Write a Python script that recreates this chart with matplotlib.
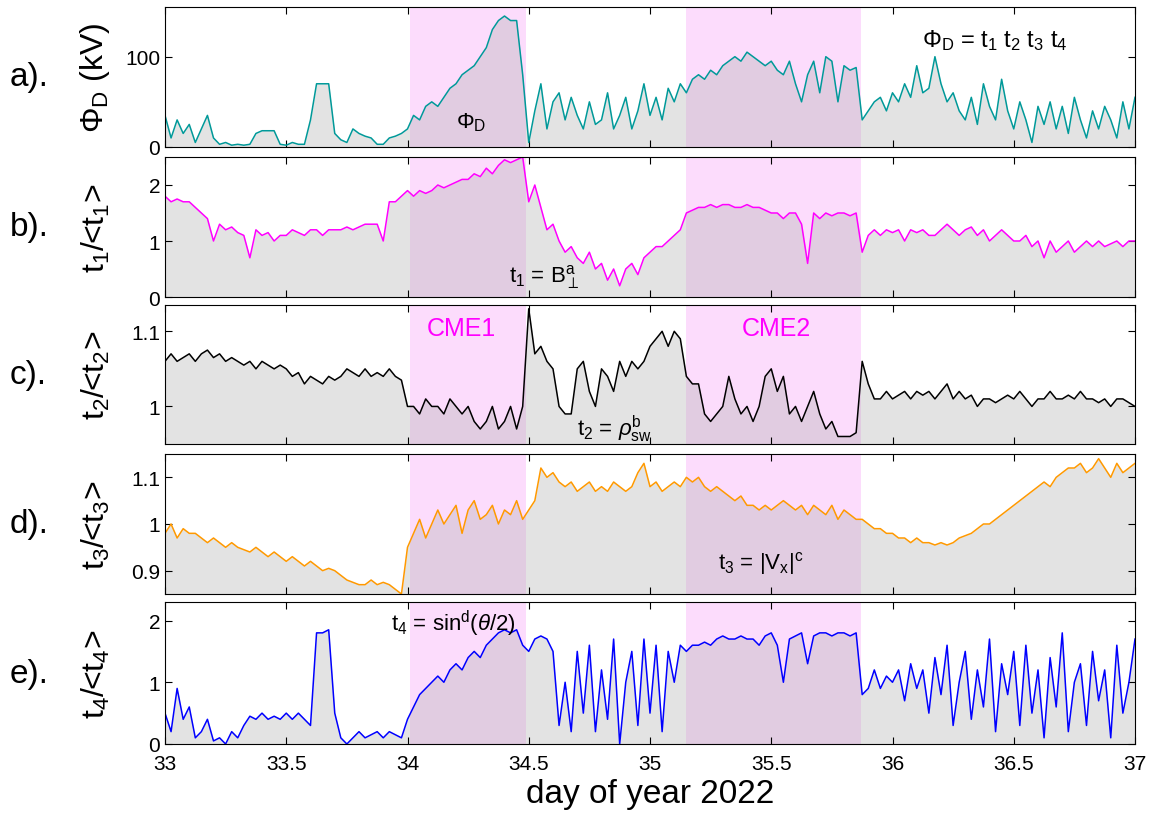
import matplotlib
matplotlib.use("Agg")
import matplotlib.pyplot as plt
import numpy as np

plt.rcParams["font.family"] = ["Liberation Sans", "DejaVu Sans"]
plt.rcParams["mathtext.fontset"] = "custom"
plt.rcParams["mathtext.rm"] = "Liberation Sans"
plt.rcParams["mathtext.it"] = "Liberation Sans:italic"

DAY_START, DAY_END = 33, 37
CME1 = (34.01, 34.49)
CME2 = (35.15, 35.87)

phi_d = [35, 10, 30, 15, 25, 5, 20, 35, 10, 3, 5, 2, 3, 2, 3, 15, 18, 18, 18, 3,
         2, 5, 3, 3, 30, 70, 70, 70, 15, 8, 5, 20, 15, 12, 10, 3, 3, 10, 12, 15,
         20, 35, 30, 45, 50, 45, 55, 65, 70, 80, 85, 90, 100, 110, 130, 140, 145, 140, 140, 80,
         5, 40, 70, 20, 50, 60, 30, 55, 35, 20, 50, 25, 30, 60, 20, 35, 55, 20, 40, 70,
         35, 55, 30, 65, 50, 70, 60, 75, 80, 75, 85, 80, 90, 95, 100, 95, 105, 100, 95, 90,
         95, 85, 80, 95, 70, 50, 80, 95, 60, 100, 95, 50, 90, 85, 88, 30, 40, 50, 55, 40,
         60, 50, 70, 55, 90, 60, 65, 100, 70, 50, 60, 40, 30, 55, 25, 70, 45, 30, 75, 40,
         20, 50, 30, 5, 45, 25, 50, 20, 45, 15, 55, 30, 10, 40, 20, 45, 30, 10, 50, 20, 55]

t1 = [1.8, 1.7, 1.75, 1.7, 1.7, 1.6, 1.5, 1.4, 1.0, 1.3, 1.2, 1.25, 1.15, 1.1, 0.7, 1.2, 1.1, 1.15, 1.0, 1.1,
      1.1, 1.2, 1.15, 1.1, 1.2, 1.2, 1.1, 1.2, 1.2, 1.2, 1.25, 1.2, 1.25, 1.3, 1.3, 1.3, 1.0, 1.7, 1.7, 1.8,
      1.9, 1.8, 1.9, 1.85, 1.9, 2.0, 1.95, 2.0, 2.05, 2.1, 2.1, 2.2, 2.15, 2.3, 2.2, 2.35, 2.45, 2.4, 2.45, 2.5,
      1.7, 2.0, 1.6, 1.2, 1.3, 1.0, 0.8, 0.9, 0.7, 0.6, 0.8, 0.5, 0.6, 0.3, 0.5, 0.2, 0.5, 0.6, 0.4, 0.7,
      0.8, 0.9, 0.9, 1.0, 1.1, 1.2,
      1.5, 1.55, 1.6, 1.6, 1.65, 1.6, 1.65, 1.65, 1.6, 1.6, 1.65, 1.6, 1.6, 1.55, 1.5, 1.5, 1.4, 1.5, 1.5, 1.3,
      0.6, 1.5, 1.4, 1.5, 1.45, 1.5, 1.5, 1.45, 1.5,
      0.8, 1.1, 1.2, 1.1, 1.2, 1.15, 1.2, 1.0, 1.2, 1.15, 1.2, 1.1, 1.1, 1.2, 1.3, 1.2, 1.1, 1.2, 1.25, 1.1,
      1.2, 1.0, 1.1, 1.2, 1.1, 1.0, 1.0, 1.1, 0.9, 1.0, 0.7, 1.0, 0.8, 0.9, 1.0, 0.8, 0.9, 1.0, 0.9, 1.0,
      0.9, 0.95, 1.0, 0.9, 1.0, 1.0]

t2 = [1.06, 1.07, 1.06, 1.065, 1.07, 1.06, 1.07, 1.075, 1.065, 1.07, 1.06, 1.065, 1.06, 1.055, 1.06, 1.05,
      1.06, 1.055, 1.05, 1.055, 1.05, 1.04, 1.045, 1.03, 1.04, 1.035, 1.03, 1.04, 1.035, 1.04, 1.05, 1.045,
      1.04, 1.05, 1.04, 1.045, 1.04, 1.05, 1.04, 1.035,
      1.0, 1.0, 0.99, 1.01, 1.0, 1.0, 0.99, 1.01, 1.0, 0.99, 1.0, 0.98, 0.97, 0.98, 1.0, 0.97, 0.98, 1.0, 0.97, 1.0,
      1.13, 1.07, 1.08, 1.06, 1.05, 1.0, 0.99, 0.99, 1.05, 1.06, 1.02, 1.0, 1.05, 1.04, 1.02, 1.06, 1.04,
      1.06, 1.05, 1.06, 1.08, 1.09, 1.10, 1.08, 1.10, 1.09,
      1.04, 1.03, 1.03, 0.99, 0.98, 0.99, 1.0, 1.04, 1.01, 0.99, 1.0, 0.98, 1.0, 1.04, 1.05, 1.02, 1.04,
      0.99, 1.0, 0.98, 1.0, 1.02, 0.99, 0.97, 0.98, 0.96, 0.96, 0.96, 0.965,
      1.06, 1.03, 1.01, 1.01, 1.02, 1.01, 1.015, 1.02, 1.01, 1.02, 1.015, 1.02, 1.01, 1.02, 1.03, 1.01,
      1.02, 1.01, 1.015, 1.0, 1.01, 1.01, 1.005, 1.01, 1.015, 1.01, 1.02, 1.01, 1.0, 1.01, 1.01, 1.02,
      1.01, 1.01, 1.015, 1.01, 1.02, 1.01, 1.01, 1.005, 1.01, 1.0, 1.01, 1.01, 1.005, 1.0]

t3 = [0.98, 1.0, 0.97, 0.99, 0.98, 0.98, 0.97, 0.96, 0.97, 0.96, 0.95, 0.96, 0.95, 0.945, 0.94, 0.95,
      0.94, 0.93, 0.94, 0.93, 0.92, 0.93, 0.92, 0.91, 0.92, 0.91, 0.90, 0.905, 0.90, 0.89, 0.88, 0.875,
      0.87, 0.87, 0.88, 0.87, 0.875, 0.87, 0.86, 0.85,
      0.95, 0.98, 1.01, 0.97, 1.0, 1.03, 1.0, 1.02, 1.04, 0.98, 1.03, 1.05, 1.01, 1.02, 1.04, 1.0, 1.03, 1.02, 1.05, 1.01,
      1.03, 1.05, 1.12, 1.10, 1.11, 1.09, 1.08, 1.09, 1.07, 1.08, 1.09, 1.07, 1.08, 1.07, 1.09, 1.08, 1.07,
      1.08, 1.11, 1.13, 1.08, 1.09, 1.07, 1.08, 1.09, 1.08,
      1.10, 1.09, 1.10, 1.08, 1.07, 1.08, 1.07, 1.06, 1.05, 1.06, 1.04, 1.04, 1.03, 1.04, 1.03, 1.04, 1.05,
      1.04, 1.03, 1.04, 1.02, 1.04, 1.03, 1.02, 1.04, 1.01, 1.03, 1.02, 1.01,
      1.01, 1.0, 0.99, 0.99, 0.98, 0.98, 0.97, 0.97, 0.96, 0.97, 0.96, 0.96, 0.955, 0.96, 0.955, 0.96, 0.97,
      0.975, 0.98, 0.99, 1.0, 1.0, 1.01, 1.02, 1.03, 1.04, 1.05, 1.06, 1.07, 1.08, 1.09, 1.08, 1.10, 1.11,
      1.12, 1.12, 1.13, 1.11, 1.12, 1.14, 1.12, 1.10, 1.13, 1.11, 1.12, 1.13]

t4 = [0.5, 0.2, 0.9, 0.4, 0.6, 0.1, 0.2, 0.4, 0.05, 0.1, 0.0, 0.2, 0.1, 0.3, 0.45, 0.4, 0.5, 0.4, 0.45, 0.4,
      0.5, 0.4, 0.5, 0.4, 0.3, 1.8, 1.8, 1.85, 0.5, 0.1, 0.0, 0.1, 0.2, 0.1, 0.15, 0.2, 0.1, 0.2, 0.15, 0.1,
      0.4, 0.6, 0.8, 0.9, 1.0, 1.1, 1.0, 1.2, 1.3, 1.2, 1.4, 1.5, 1.4, 1.6, 1.7, 1.8, 1.85, 1.8, 1.85, 1.6,
      1.5, 1.7, 1.75, 1.7, 1.5, 0.3, 1.0, 0.2, 1.5, 0.5, 1.6, 0.2, 1.2, 0.4, 1.7, 0.0, 1.0, 1.5, 0.3, 1.7,
      0.5, 1.6, 0.2, 1.5, 1.0, 1.6,
      1.5, 1.6, 1.6, 1.65, 1.6, 1.7, 1.75, 1.7, 1.7, 1.75, 1.7, 1.7, 1.6, 1.75, 1.8, 1.6, 1.0, 1.7, 1.75,
      1.8, 1.3, 1.75, 1.8, 1.8, 1.75, 1.8, 1.8, 1.75, 1.8,
      0.8, 0.9, 1.2, 0.9, 1.1, 1.0, 1.2, 0.7, 1.3, 0.9, 1.2, 0.5, 1.4, 0.8, 1.6, 0.3, 1.0, 1.5, 0.4, 1.2,
      0.6, 1.7, 0.2, 1.3, 0.8, 1.5, 0.3, 1.6, 0.5, 1.2, 0.1, 1.4, 0.6, 1.8, 0.2, 1.0, 1.3, 0.3, 1.5, 0.7,
      1.2, 0.1, 1.6, 0.5, 1.0, 1.7]

panels = [
    ("a).", phi_d, "#009999", r"$\Phi_\mathrm{D}$ (kV)", (0, 155), [0, 100], ["0", "100"]),
    ("b).", t1, "#ff00ff", r"t$_1$/<t$_1$>", (0, 2.5), [0, 1, 2], ["0", "1", "2"]),
    ("c).", t2, "black", r"t$_2$/<t$_2$>", (0.95, 1.135), [1, 1.1], ["1", "1.1"]),
    ("d).", t3, "#ff9900", r"t$_3$/<t$_3$>", (0.85, 1.15), [0.9, 1, 1.1], ["0.9", "1", "1.1"]),
    ("e).", t4, "#0000ff", r"t$_4$/<t$_4$>", (0, 2.3), [0, 1, 2], ["0", "1", "2"]),
]

fig = plt.figure(figsize=(11.52, 8.2), dpi=100)
tops = [8, 158, 306, 455, 603]
heights = [140, 140, 139, 140, 142]
axes = []
for (tag, vals, color, ylab, ylim, ticks, tlabels), top, h in zip(panels, tops, heights):
    ax = fig.add_axes([165 / 1152, 1 - (top + h) / 820, 970 / 1152, h / 820])
    x = np.linspace(DAY_START, DAY_END, len(vals))
    for span in (CME1, CME2):
        ax.axvspan(*span, color="#fcdcfc", zorder=0, lw=0)
    ax.fill_between(x, vals, ylim[0], color="#b0b0b0", alpha=0.35, lw=0, zorder=1)
    ax.plot(x, vals, color=color, lw=1.1, zorder=2)
    ax.set_xlim(DAY_START, DAY_END)
    ax.set_ylim(*ylim)
    ax.set_yticks(ticks)
    ax.set_yticklabels(tlabels)
    ax.tick_params(direction="in", labelsize=15, top=True, right=True, length=5)
    ax.tick_params(axis="x", pad=7)
    ax.set_ylabel(ylab, fontsize=23, labelpad=4)
    ax.yaxis.set_label_coords(-0.055, 0.5)
    ax.text(-0.16, 0.5, tag, transform=ax.transAxes, fontsize=24, va="center")
    if tag != "e).":
        ax.set_xticklabels([])
    axes.append(ax)

axes[-1].set_xticks([33, 33.5, 34, 34.5, 35, 35.5, 36, 36.5, 37])
axes[-1].set_xticklabels(["33", "33.5", "34", "34.5", "35", "35.5", "36", "36.5", "37"])
axes[-1].set_xlabel("day of year 2022", fontsize=24)

axes[0].text(36.12, 112, r"$\Phi_\mathrm{D}$ = t$_1$ t$_2$ t$_3$ t$_4$", fontsize=17)
axes[0].text(34.2, 22, r"$\Phi_\mathrm{D}$", fontsize=16)
axes[1].text(34.42, 0.28, r"t$_1$ = B$_\perp^\mathrm{a}$", fontsize=16)
axes[2].text(34.08, 1.095, "CME1", fontsize=18, color="#ff00ff")
axes[2].text(35.38, 1.095, "CME2", fontsize=18, color="#ff00ff")
axes[2].text(34.7, 0.962, r"t$_2$ = $\rho_\mathrm{sw}^\mathrm{b}$", fontsize=16)
axes[3].text(35.28, 0.905, r"t$_3$ = |V$_\mathrm{x}$|$^\mathrm{c}$", fontsize=16)
axes[4].text(33.93, 1.85, r"t$_4$ = sin$^\mathrm{d}$($\theta$/2)", fontsize=16)

fig.savefig("out.png", dpi=100)
